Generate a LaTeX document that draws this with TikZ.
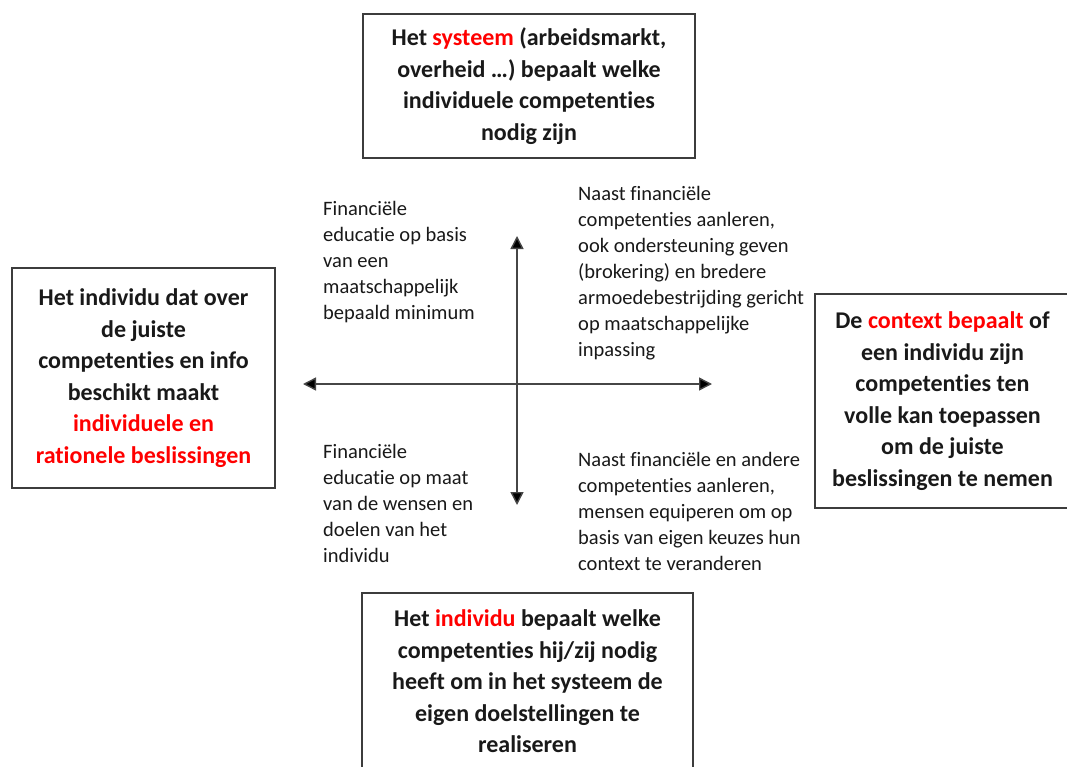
\documentclass[tikz,border=0pt]{standalone}
\usepackage{fontspec}
\setmainfont{Carlito}[Ligatures={NoCommon}]
\usetikzlibrary{arrows.meta}
\definecolor{boxline}{RGB}{60,60,60}
\definecolor{axisline}{RGB}{70,70,70}
\definecolor{hl}{RGB}{255,0,0}
\definecolor{txt}{RGB}{25,25,25}
\tikzset{
  bigbox/.style={draw=boxline, line width=1.8pt, fill=white, inner sep=0pt,
    align=center, text=txt, font=\bfseries\fontsize{24}{31.5}\selectfont},
  quadtext/.style={anchor=west, inner sep=0pt, align=left, text=txt,
    font=\fontsize{20.5}{26}\selectfont},
  axis/.style={draw=axisline, line width=1.4pt,
    {Triangle[length=13pt,width=13pt,fill=black]}-{Triangle[length=13pt,width=13pt,fill=black]}}
}
\begin{document}
\begin{tikzpicture}[x=1pt,y=-1pt]
\useasboundingbox (0,0) rectangle (1067,767);
\clip (0,0) rectangle (1067,767);
\fill[white] (0,0) rectangle (1067,767);

% axes
\coordinate (L) at (303,384);
\coordinate (R) at (712,384);
\coordinate (T) at (517,236);
\coordinate (B) at (517,505);
\draw[axis] (L) -- (R);
\draw[axis] (B) -- (T);

% boxes
\node[bigbox, minimum width=332pt, minimum height=144pt] (top) at (529,86)
  {Het {\color{hl}systeem} (arbeidsmarkt,\\overheid …) bepaalt welke\\individuele competenties\\nodig zijn};
\node[bigbox, minimum width=263pt, minimum height=220pt] (left) at (143.5,378)
  {Het individu dat over\\de juiste\\competenties en info\\beschikt maakt\\{\color{hl}individuele en}\\{\color{hl}rationele beslissingen}};
\node[bigbox, minimum width=255pt, minimum height=214pt] (right) at (942.5,401)
  {De {\color{hl}context bepaalt} of\\een individu zijn\\competenties ten\\volle kan toepassen\\om de juiste\\beslissingen te nemen};
\node[bigbox, minimum width=331pt, minimum height=177pt] (bottom) at (527.5,681.5)
  {Het {\color{hl}individu} bepaalt welke\\competenties hij/zij nodig\\heeft om in het systeem de\\eigen doelstellingen te\\realiseren};

% quadrant texts
\node[quadtext] (ul) at (323,262.5)
  {Financiële\\educatie op basis\\van een\\maatschappelijk\\bepaald minimum};
\node[quadtext] (ur) at (578,273.5)
  {Naast financiële\\competenties aanleren,\\ook ondersteuning geven\\(brokering) en bredere\\armoedebestrijding gericht\\op maatschappelijke\\inpassing};
\node[quadtext] (ll) at (323,503.5)
  {Financiële\\educatie op maat\\van de wensen en\\doelen van het\\individu};
\node[quadtext] (lr) at (578,511.5)
  {Naast financiële en andere\\competenties aanleren,\\mensen equiperen om op\\basis van eigen keuzes hun\\context te veranderen};
\end{tikzpicture}
\end{document}
